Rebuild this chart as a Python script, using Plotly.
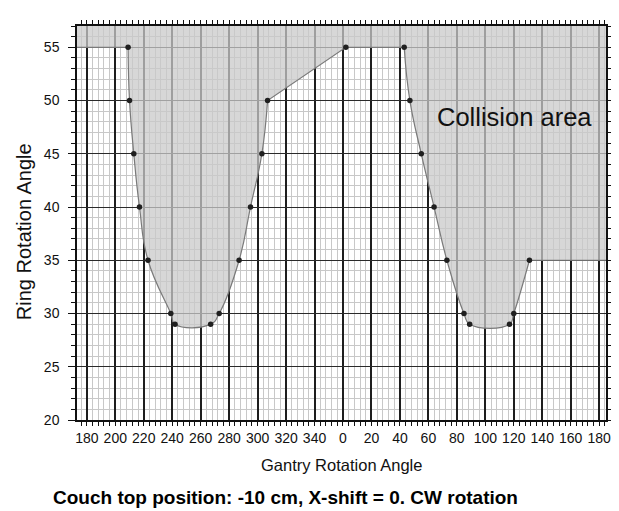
import plotly.graph_objects as go

# ---------------- data ----------------
# Gantry angle on the 180..360 half (left lobe)
left_gantry = [209, 210, 213, 217, 223, 239, 242, 267, 273, 287, 295, 303, 307]
left_ring = [55, 50, 45, 40, 35, 30, 29, 29, 30, 35, 40, 45, 50]
# Gantry angle on the 0..180 half (right lobe)
right_gantry = [2, 43, 47, 55, 64, 73, 85, 89, 117, 120, 131]
right_ring = [55, 55, 50, 45, 40, 35, 30, 29, 29, 30, 35]
# plateau levels of the collision boundary at the two ends
left_plateau = 55
right_plateau = 35

x_tick_labels = [180, 200, 220, 240, 260, 280, 300, 320, 340,
                 0, 20, 40, 60, 80, 100, 120, 140, 160, 180]
y_tick_values = [20, 25, 30, 35, 40, 45, 50, 55]

# ---------------- layout constants ----------------
XMIN, XMAX = 173.1, 544.8
YMIN, YMAX = 20, 57
FONT = "Liberation Sans, Arial, sans-serif"

# continuous axis: 180..360 then 0..180 shifted by 360
def to_axis(g, second_half):
    return [v + 360 if second_half else v for v in g]

lx = to_axis(left_gantry, False)
rx = to_axis(right_gantry, True)
tick_vals = [180 + 20 * i for i in range(len(x_tick_labels))]

# boundary points, (x, y, sharp?)
pts = [(XMIN - 5, left_plateau, True)]
for i, (x, y) in enumerate(zip(lx, left_ring)):
    pts.append((x, y, i in (0, len(lx) - 1)))
for i, (x, y) in enumerate(zip(rx, right_ring)):
    pts.append((x, y, i in (0, 1, len(rx) - 1)))
pts.append((XMAX + 5, right_plateau, True))


def expand(points):
    xs, ys = [], []
    for x, y, sharp in points:
        reps = 2 if sharp else 1
        xs += [x] * reps
        ys += [y] * reps
    return xs, ys


bx, by = expand(pts)
poly = [(XMIN - 5, YMAX + 5, True)] + pts + [(XMAX + 5, YMAX + 5, True)]
fx, fy = expand(poly)

SMOOTH = 1.3

fig = go.Figure()
fig.add_trace(go.Scatter(
    x=fx, y=fy, mode="lines", fill="toself",
    fillcolor="rgba(202,202,202,0.75)",
    line=dict(width=0, shape="spline", smoothing=SMOOTH, simplify=False),
    hoverinfo="skip", showlegend=False))
fig.add_trace(go.Scatter(
    x=bx, y=by, mode="lines",
    line=dict(color="#7a7a7a", width=1.2, shape="spline", smoothing=SMOOTH,
              simplify=False),
    hoverinfo="skip", showlegend=False))
fig.add_trace(go.Scatter(
    x=lx + rx, y=left_ring + right_ring, mode="markers",
    marker=dict(color="#202020", size=5.5),
    showlegend=False))

fig.update_xaxes(
    range=[XMIN, XMAX], tickmode="array", tickvals=tick_vals,
    ticktext=[str(v) for v in x_tick_labels],
    showgrid=True, gridcolor="#1e1e1e", gridwidth=1.5,
    ticks="outside", ticklen=4, tickwidth=1.2, tickcolor="#111",
    showline=True, linecolor="#111", linewidth=1.5, mirror="ticks",
    tickfont=dict(family=FONT, size=14, color="#111"), zeroline=False,
    minor=dict(tick0=180, dtick=4, showgrid=True, gridcolor="#c8c8c8",
               gridwidth=1, ticks="outside", ticklen=4, tickcolor="#111"),
)
fig.update_yaxes(
    range=[YMIN, YMAX], tickmode="array", tickvals=y_tick_values,
    showgrid=True, gridcolor="#2a2a2a", gridwidth=1.3,
    ticks="outside", ticklen=7, tickwidth=1.2, tickcolor="#111",
    showline=True, linecolor="#111", linewidth=1.5, mirror="ticks",
    tickfont=dict(family=FONT, size=14, color="#111"),
    ticklabelstandoff=6,
    zeroline=False,
    minor=dict(dtick=1, showgrid=True, gridcolor="#c8c8c8", gridwidth=1,
               ticks="outside", ticklen=4, tickcolor="#111"),
)

fig.add_annotation(x=480.2, y=48.5, xref="x", yref="y",
                   text="Collision area", showarrow=False,
                   font=dict(family=FONT, size=25.5, color="#111"))
fig.add_annotation(x=0.5, y=-0.114, xref="paper", yref="paper",
                   text="Gantry Rotation Angle", showarrow=False,
                   yanchor="middle",
                   font=dict(family=FONT, size=16.5, color="#111"))
fig.add_annotation(x=-0.1, y=0.477, xref="paper", yref="paper",
                   text="Ring Rotation Angle", showarrow=False,
                   textangle=-90, xanchor="center", yanchor="middle",
                   font=dict(family=FONT, size=20, color="#111"))
fig.add_annotation(x=(281.5 - 69) / 538, y=-0.196, xref="paper", yref="paper",
                   text="<b>Couch top position: -10 cm, X-shift = 0. CW rotation</b>",
                   showarrow=False, yanchor="middle",
                   font=dict(family=FONT, size=19, color="#000"))

fig.update_layout(
    width=619, height=511,
    margin=dict(l=69, r=12, t=14, b=99),
    paper_bgcolor="white", plot_bgcolor="white",
    showlegend=False,
)

fig.write_html("out.html")
